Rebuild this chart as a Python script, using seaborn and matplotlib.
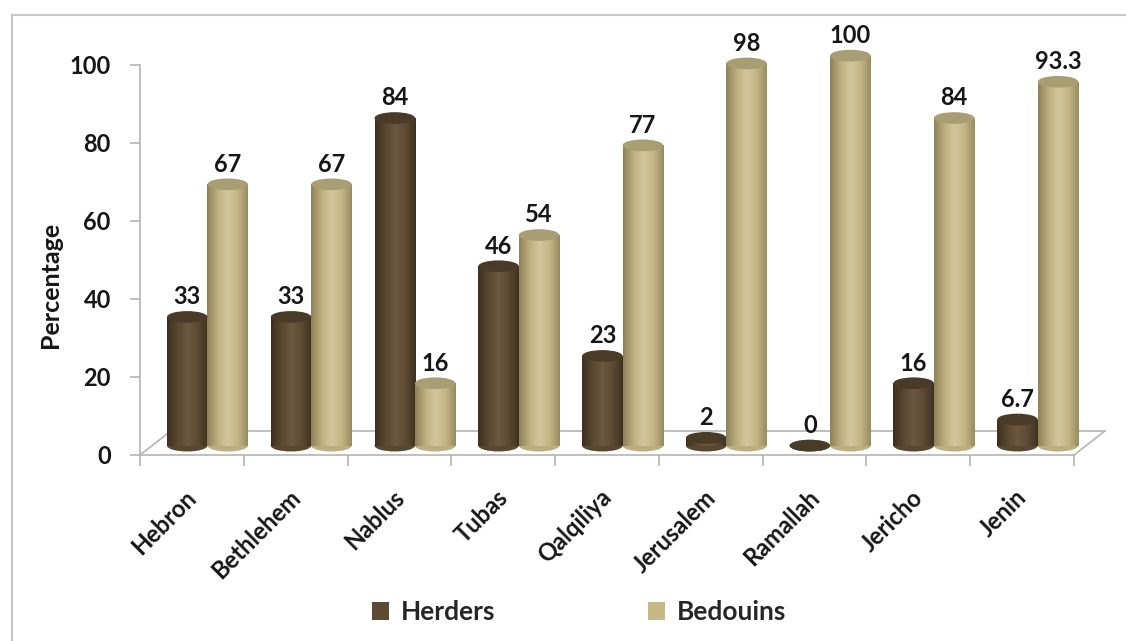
import numpy as np
import pandas as pd
import matplotlib
matplotlib.use("Agg")
import matplotlib.pyplot as plt
import seaborn as sns
from matplotlib.patches import Ellipse, Patch, Rectangle
from matplotlib.colors import LinearSegmentedColormap

# Share of livestock holders by governorate
governorates = ["Hebron", "Bethlehem", "Nablus", "Tubas", "Qalqiliya",
                "Jerusalem", "Ramallah", "Jericho", "Jenin"]
herders = [33, 33, 84, 46, 23, 2, 0, 16, 6.7]
bedouins = [67, 67, 16, 54, 77, 98, 100, 84, 93.3]
herders_labels = ["33", "33", "84", "46", "23", "2", "0", "16", "6.7"]
bedouins_labels = ["67", "67", "16", "54", "77", "98", "100", "84", "93.3"]
groups = ["Herders", "Bedouins"]
y_ticks = [0, 20, 40, 60, 80, 100]

palette = {"Herders": "#5e4a33", "Bedouins": "#c6b887"}
body_ramps = {
    "Herders": ["#3e3020", "#5a4730", "#6d5840", "#5e4a33", "#3f3122"],
    "Bedouins": ["#8f8258", "#bcae7e", "#d4c79b", "#c4b685", "#9a8c60"],
}
top_colors = {"Herders": "#4a3b29", "Bedouins": "#a99d73"}

df = pd.DataFrame({
    "Governorate": governorates * 2,
    "Group": [groups[0]] * len(governorates) + [groups[1]] * len(governorates),
    "Value": herders + bedouins,
    "Label": herders_labels + bedouins_labels,
})

sns.set_style("white")
plt.rcParams["font.family"] = ["Lato", "DejaVu Sans"]
plt.rcParams["font.weight"] = "bold"

TXT = "#161616"
fig = plt.figure(figsize=(11.26, 6.41), dpi=100)
ax = fig.add_axes([140 / 1126, 1 - 455 / 641, (1074 - 140) / 1126, 390 / 641])

sns.barplot(data=df, x="Governorate", y="Value", hue="Group", order=governorates,
            hue_order=groups, palette=palette, width=0.78, ax=ax, legend=False,
            linewidth=0, saturation=1)

n = len(governorates)
ax.set_xlim(-0.5, n - 0.5)
ax.set_ylim(0, 100)

# Cylinders stand on the floor of the 3-D frame: shifted back and up by its depth
shift_x = 0.15
lift = 2.4
ell_h = 3.0
grad = np.linspace(0, 1, 64).reshape(1, -1)
for container, g in zip(ax.containers, groups):
    cmap = LinearSegmentedColormap.from_list(g, body_ramps[g])
    for bar, lab in zip(container, df[df["Group"] == g]["Label"]):
        bar.set_x(bar.get_x() + shift_x)
        bar.set_y(bar.get_y() + lift)
        x0, w, h = bar.get_x(), bar.get_width(), bar.get_height()
        y0 = bar.get_y()
        cx = x0 + w / 2
        ax.add_patch(Ellipse((cx, y0), w, ell_h, facecolor=body_ramps[g][1],
                             edgecolor="none", zorder=2, clip_on=False))
        if h > 0:
            im = ax.imshow(grad, cmap=cmap, aspect="auto",
                           extent=(x0, x0 + w, y0, y0 + h), zorder=2.5,
                           interpolation="bicubic")
            im.set_clip_path(bar)
            bar.set_facecolor("none")
        ax.add_patch(Ellipse((cx, y0 + h), w, ell_h, facecolor=top_colors[g],
                             edgecolor="none", zorder=3, clip_on=False))
        ax.annotate(lab, (cx, y0 + h + ell_h / 2), xytext=(0, 2),
                    textcoords="offset points", ha="center", va="bottom",
                    fontsize=17, fontweight="bold", color=TXT,
                    annotation_clip=False)
ax.set_xlim(-0.5, n - 0.5)
ax.set_ylim(0, 100)

# Floor of the 3-D frame
grey = "#b4b4b4"
depth_x, depth_y = 0.30, 6.2
ax.plot([-0.5 + depth_x, n - 0.5 + depth_x], [depth_y, depth_y], color=grey,
        lw=1.2, zorder=1, clip_on=False)
ax.plot([-0.5, -0.5 + depth_x], [0, depth_y], color=grey, lw=1.2, zorder=1,
        clip_on=False)
ax.plot([n - 0.5, n - 0.5 + depth_x], [0, depth_y], color=grey, lw=1.2,
        zorder=1, clip_on=False)

# Axes styling
for s in ["top", "right"]:
    ax.spines[s].set_visible(False)
for s in ["left", "bottom"]:
    ax.spines[s].set_color(grey)
    ax.spines[s].set_linewidth(1.2)
ax.set_yticks(y_ticks)
ax.set_yticklabels([str(t) for t in y_ticks], fontsize=17, fontweight="bold",
                   color=TXT)
ax.tick_params(axis="y", length=7, width=1.2, color=grey, pad=14, left=True)

ax.set_xticks(np.arange(n) - 0.07)
ax.set_xticklabels(governorates, rotation=45, ha="right",
                   rotation_mode="anchor", fontsize=17, fontweight="bold",
                   color=TXT)
ax.tick_params(axis="x", length=0, pad=22)
ax.set_xticks(np.arange(n + 1) - 0.5, minor=True)
ax.tick_params(axis="x", which="minor", length=8, width=1.2, color=grey,
               bottom=True)
ax.set_xlabel("")
ax.set_ylabel("")

fig.text(50 / 1126, 1 - 285 / 641, "Percentage", rotation=90, ha="center",
         va="center", fontsize=18, fontweight="bold", color=TXT)

handles = [Patch(facecolor=palette[g], edgecolor="none") for g in groups]
fig.legend(handles, groups, loc="center",
           bbox_to_anchor=(579 / 1126, 1 - 612 / 641),
           ncol=2, frameon=False, handlelength=0.65, handleheight=0.65,
           handletextpad=0.45, columnspacing=5.8,
           prop={"weight": "bold", "size": 19})

# Outer frame of the chart area
fig.add_artist(Rectangle((12 / 1126, -0.1), 1.2, 1 - 15 / 641 + 0.1,
                         transform=fig.transFigure, facecolor="none",
                         edgecolor="#c8c8c8", lw=1.5))

fig.savefig("out.png", dpi=100)
